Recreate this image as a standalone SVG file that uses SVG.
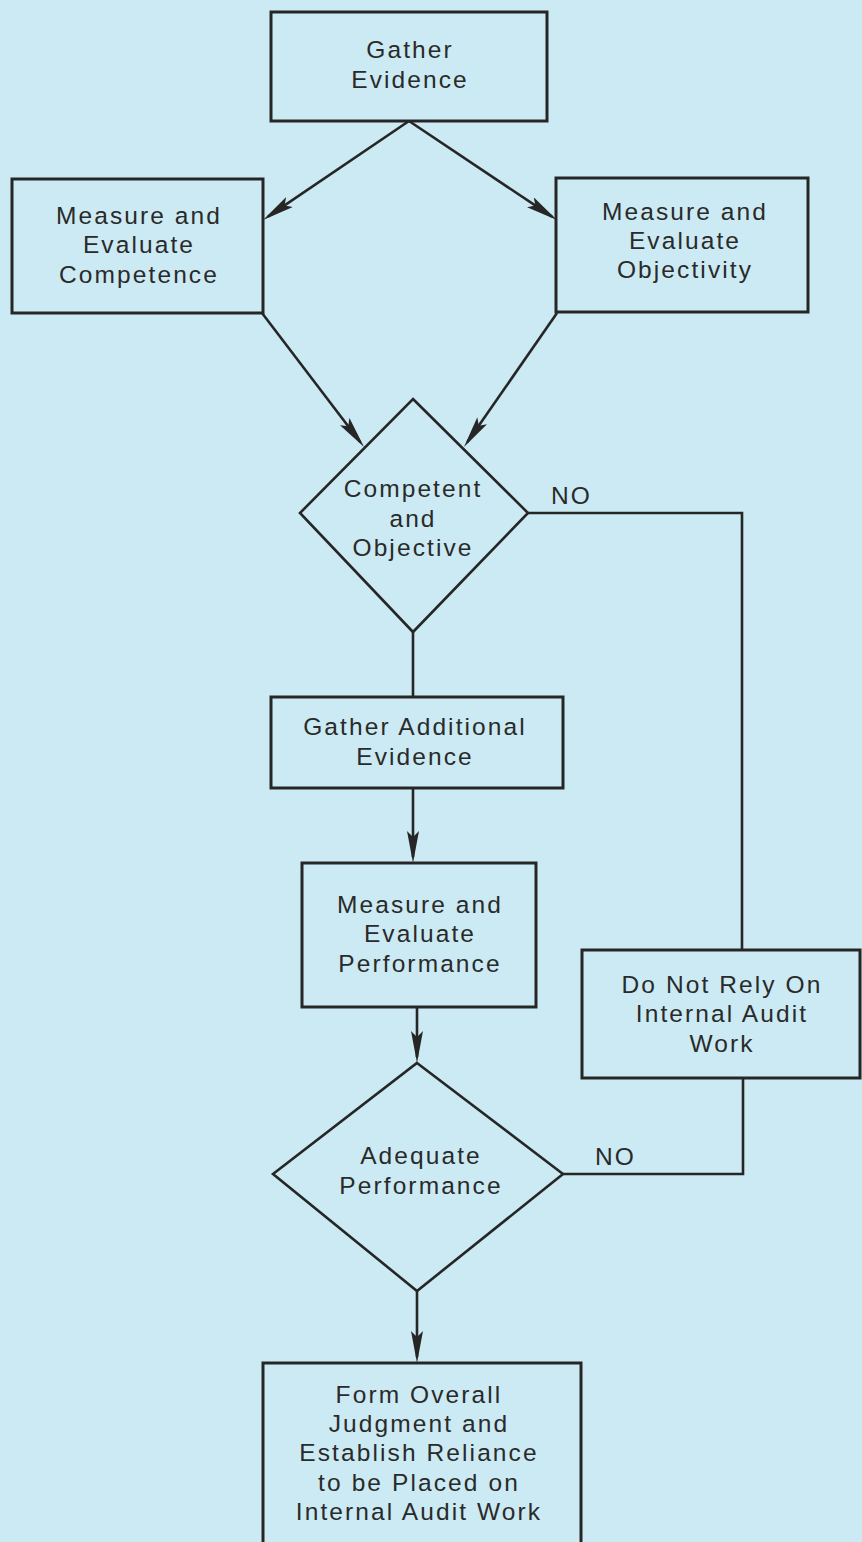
<svg xmlns="http://www.w3.org/2000/svg" width="862" height="1542" viewBox="0 0 862 1542">
<style>
.bg{fill:#cbeaf3}
.box{fill:none;stroke:#262626;stroke-width:3}
.dia{fill:none;stroke:#262626;stroke-width:2.6;stroke-linejoin:miter}
.ln{fill:none;stroke:#262626;stroke-width:2.6}
text{font-family:"Liberation Sans",Arial,sans-serif;font-size:24.5px;fill:#2a2a2a;text-anchor:middle;letter-spacing:2.1px}
.lbl{text-anchor:start}
</style>
<defs>
<marker id="ah" viewBox="0 0 32 12" refX="26" refY="6" markerWidth="32" markerHeight="12" orient="auto" markerUnits="userSpaceOnUse">
<path d="M0,0 L32,6 L0,12 L6,6 z" fill="#262626"/>
</marker>
</defs>
<rect class="bg" x="0" y="0" width="862" height="1542"/>
<g id="connectors">
<path class="ln" d="M409,121 L268,216.6" marker-end="url(#ah)"/>
<path class="ln" d="M409,121 L552,216.7" marker-end="url(#ah)"/>
<path class="ln" d="M262,313 L360.4,442.2" marker-end="url(#ah)"/>
<path class="ln" d="M557,313 L467.4,442.1" marker-end="url(#ah)"/>
<path class="ln" d="M413,632 L413,697"/>
<path class="ln" d="M413,788 L413,857" marker-end="url(#ah)"/>
<path class="ln" d="M417,1007 L417,1057" marker-end="url(#ah)"/>
<path class="ln" d="M417,1291 L417,1357" marker-end="url(#ah)"/>
<path class="ln" d="M528,513 L742,513 L742,950"/>
<path class="ln" d="M563,1174 L743,1174 L743,1078"/>
<text class="lbl" x="551" y="504">NO</text>
<text class="lbl" x="595" y="1165">NO</text>
</g>
<g id="gather">
<rect class="box" x="271" y="12" width="276" height="109"/>
<text x="410" y="58">Gather</text>
<text x="410" y="88">Evidence</text>
</g>
<g id="competence">
<rect class="box" x="12" y="179" width="251" height="134"/>
<text x="139" y="224">Measure and</text>
<text x="139" y="253">Evaluate</text>
<text x="139" y="283">Competence</text>
</g>
<g id="objectivity">
<rect class="box" x="556" y="178" width="252" height="134"/>
<text x="685" y="220">Measure and</text>
<text x="685" y="249">Evaluate</text>
<text x="685" y="278">Objectivity</text>
</g>
<g id="decision1">
<polygon class="dia" points="413,399 528,513 413,632 300,513"/>
<text x="413" y="497">Competent</text>
<text x="413" y="527">and</text>
<text x="413" y="556">Objective</text>
</g>
<g id="additional">
<rect class="box" x="271" y="697" width="292" height="91"/>
<text x="415" y="735">Gather Additional</text>
<text x="415" y="765">Evidence</text>
</g>
<g id="performance">
<rect class="box" x="302" y="863" width="234" height="144"/>
<text x="420" y="913">Measure and</text>
<text x="420" y="942">Evaluate</text>
<text x="420" y="972">Performance</text>
</g>
<g id="norely">
<rect class="box" x="582" y="950" width="278" height="128"/>
<text x="722" y="993">Do Not Rely On</text>
<text x="722" y="1022">Internal Audit</text>
<text x="722" y="1052">Work</text>
</g>
<g id="decision2">
<polygon class="dia" points="417,1063 563,1174 417,1291 273,1174"/>
<text x="421" y="1164">Adequate</text>
<text x="421" y="1194">Performance</text>
</g>
<g id="judgment">
<rect class="box" x="263" y="1363" width="318" height="200"/>
<text x="419" y="1403">Form Overall</text>
<text x="419" y="1432">Judgment and</text>
<text x="419" y="1461">Establish Reliance</text>
<text x="419" y="1491">to be Placed on</text>
<text x="419" y="1520">Internal Audit Work</text>
</g>
</svg>
